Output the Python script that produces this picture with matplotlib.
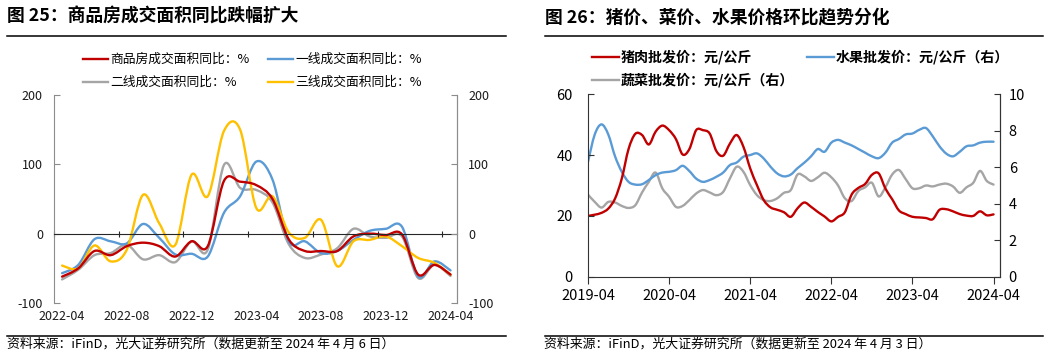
import numpy as np
import matplotlib; matplotlib.use("Agg")
import matplotlib.pyplot as plt
from matplotlib.path import Path
from matplotlib.patches import PathPatch
from matplotlib.lines import Line2D

plt.rcParams["font.family"] = ["Noto Sans CJK SC", "DejaVu Sans"]
plt.rcParams["axes.unicode_minus"] = False

# ---- fig 25 data: monthly, 2022-04 .. 2024-04 ----
area_months = list(range(25))
area_ticklabels = ["2022-04", "2022-08", "2022-12", "2023-04", "2023-08", "2023-12", "2024-04"]
area_total = [-62, -50, -25, -31, -18, -13, -18, -33, -11, -18, 76, 75, 70, 50, -8, -25, -25, -25, -4, 0, -2, -1, -59, -45, -59]
area_tier1 = [-57, -45, -8, -11, -14, 14, -6, -30, -29, -33, 30, 54, 104, 78, -11, -11, -28, -25, -9, 4, 7, 10, -62, -40, -53]
area_tier2 = [-66, -52, -31, -28, -16, -37, -31, -41, -11, -23, 99, 66, 63, 45, -15, -35, -30, -21, 7, -4, -6, -4, -64, -45, -61]
area_tier3 = [-46, -50, -17, -40, -23, 56, 15, -16, 85, 54, 148, 150, 37, 54, 2, -6, 20, -47, -11, -9, -4, -18, -35, -42, -59]
area_names = ["商品房成交面积同比：%", "一线成交面积同比：%", "二线成交面积同比：%", "三线成交面积同比：%"]

# ---- fig 26 data: monthly, 2019-04 .. 2024-04 ----
price_months = list(range(61))
price_ticklabels = ["2019-04", "2020-04", "2021-04", "2022-04", "2023-04", "2024-04"]
pork = [20.0, 20.4, 21, 22.4, 25.7, 32.3, 42, 47, 46.6, 43.5, 47.7, 49.7, 48.2, 45.3, 40.2, 42,
        48.2, 48.2, 47.1, 41.3, 39.8, 43.8, 46.6, 42.7, 35.6, 30.1, 25.2, 22.8, 22, 21.2, 19.7,
        22.5, 24.4, 23, 21.3, 19.8, 18.2, 19.7, 21.2, 27, 29.2, 30.5, 33.5, 34, 29, 25.5, 21.8,
        20.6, 19.7, 19.5, 19.3, 18.9, 22.0, 22.2, 21.5, 20.6, 20.1, 20.0, 21.5, 20.2, 20.5]
fruit = [6.3, 7.8, 8.35, 7.8, 6.6, 5.75, 5.2, 5.05, 5.07, 5.3, 5.57, 5.71, 5.75, 5.84, 6.08, 5.79,
         5.38, 5.2, 5.3, 5.48, 5.71, 6.12, 6.26, 6.58, 6.67, 6.76, 6.48, 6.03, 5.66, 5.5, 5.6,
         5.95, 6.25, 6.6, 7.0, 6.85, 7.35, 7.5, 7.35, 7.2, 7.0, 6.8, 6.6, 6.5, 6.8, 7.35, 7.55,
         7.8, 7.85, 8.05, 8.15, 7.7, 7.15, 6.75, 6.6, 6.85, 7.15, 7.2, 7.35, 7.4, 7.4]
veg = [4.5, 4.1, 3.79, 4.1, 4.07, 3.88, 3.77, 3.92, 4.62, 5.2, 5.71, 4.84, 4.38, 3.83, 3.88, 4.2,
       4.56, 4.75, 4.62, 4.47, 4.65, 5.39, 6.03, 5.75, 5.02, 4.47, 4.2, 4.15, 4.3, 4.6, 4.75,
       5.6, 5.5, 5.25, 5.45, 5.7, 5.45, 5.0, 4.3, 4.15, 4.7, 4.9, 5.15, 4.4, 4.9, 5.6, 5.85,
       5.35, 4.85, 4.85, 5.0, 4.95, 5.05, 5.1, 4.95, 4.6, 4.9, 5.15, 5.8, 5.25, 5.05]
price_names = ["猪肉批发价：元/公斤", "水果批发价：元/公斤（右）", "蔬菜批发价：元/公斤（右）"]

RED, BLUE, GRAY, YEL = "#C00000", "#5B9BD5", "#A5A5A5", "#FFC000"
W, H = 1054, 356


def smooth(ax, x, y, color, lw=1.7):
    # excel-style smoothed line: catmull-rom segments as cubic beziers
    p = np.column_stack([x, y]).astype(float)
    n = len(p)
    verts, codes = [p[0]], [Path.MOVETO]
    for i in range(n - 1):
        p0, p1, p2, p3 = p[max(i - 1, 0)], p[i], p[i + 1], p[min(i + 2, n - 1)]
        verts += [p1 + (p2 - p0) / 6, p2 - (p3 - p1) / 6, p2]
        codes += [Path.CURVE4] * 3
    ax.add_patch(PathPatch(Path(verts, codes), fill=False, edgecolor=color, lw=lw,
                           capstyle="round", joinstyle="round"))


def fx(px): return px / W
def fy(py): return 1 - py / H


fig = plt.figure(figsize=(W / 100, H / 100), dpi=100)

# ---------------- left: fig 25 ----------------
ax = fig.add_axes([fx(54), fy(303), fx(457) - fx(54), fy(95) - fy(303)])
smooth(ax, area_months, area_tier2, GRAY)
smooth(ax, area_months, area_tier1, BLUE)
smooth(ax, area_months, area_tier3, YEL)
smooth(ax, area_months, area_total, RED)
ax.set_xlim(-0.5, 24.4)
ax.set_ylim(-100, 200)
ax.set_yticks([-100, 0, 100, 200])
ax.spines["top"].set_visible(False)
ax.spines["right"].set_color("#8c8c8c")
ax.spines["left"].set_color("#8c8c8c")
ax.spines["bottom"].set_position(("data", 0))
ax.spines["bottom"].set_color("#262626")
ax.set_xticks([m - 0.5 for m in area_months[::4]])
ax.tick_params(axis="x", direction="inout", length=5, color="#262626", labelbottom=False)
ax.tick_params(axis="y", direction="in", length=4, color="#8c8c8c", labelsize=9, pad=8, labelcolor="#1a1a1a")
sec = ax.secondary_xaxis("bottom")
sec.set_xticks(area_months[::4], area_ticklabels)
sec.tick_params(length=0, labelsize=9, pad=5, labelcolor="#1a1a1a")
sec.spines["bottom"].set_visible(False)
axr = ax.twinx()
axr.set_ylim(-100, 200)
axr.set_yticks([-100, 0, 100, 200])
for s in ["top", "bottom", "left"]:
    axr.spines[s].set_visible(False)
axr.spines["right"].set_color("#8c8c8c")
axr.tick_params(axis="y", direction="in", length=4, color="#8c8c8c", labelsize=9, pad=8, labelcolor="#1a1a1a")

# ---------------- right: fig 26 ----------------
bx = fig.add_axes([fx(588), fy(276.7), fx(1000.3) - fx(588), fy(94.3) - fy(276.7)])
smooth(bx, price_months, pork, RED)
bx.set_xlim(0, 61)
bx.set_ylim(0, 60)
bx.set_yticks([0, 20, 40, 60])
bx.set_xticks(price_months[::12], price_ticklabels)
bx.spines["top"].set_visible(False)
for s in ["left", "right", "bottom"]:
    bx.spines[s].set_color("#333333")
bx.tick_params(axis="x", direction="out", length=5, color="#333333", labelsize=10.5, pad=4)
bx.tick_params(axis="y", direction="in", length=4, color="#333333", labelsize=10.5, pad=11)
bx2 = bx.twinx()
smooth(bx2, price_months, veg, GRAY)
smooth(bx2, price_months, fruit, BLUE)
bx2.set_ylim(0, 10)
bx2.set_yticks([0, 2, 4, 6, 8, 10])
for s in ["top", "bottom", "left"]:
    bx2.spines[s].set_visible(False)
bx2.spines["right"].set_color("#333333")
bx2.tick_params(axis="y", direction="in", length=4, color="#333333", labelsize=10.5, pad=6)
bx.set_zorder(bx2.get_zorder() + 1)
bx.patch.set_visible(False)

# ---------------- titles, rules, legends, sources ----------------
fig.text(fx(7), fy(17), "图 25：商品房成交面积同比跌幅扩大", fontsize=12.8, fontweight="bold", va="center")
fig.text(fx(545), fy(17), "图 26：猪价、菜价、水果价格环比趋势分化", fontsize=12.8, fontweight="bold", va="center")
for x0, x1 in [(7, 506), (545, 1043)]:
    fig.add_artist(Line2D([fx(x0), fx(x1)], [fy(36), fy(36)], color="black", lw=1.1))
    fig.add_artist(Line2D([fx(x0), fx(x1)], [fy(335.5), fy(335.5)], color="black", lw=1.1))

left_leg = [(83, 59, RED, area_names[0]), (268, 59, BLUE, area_names[1]),
            (83, 82, GRAY, area_names[2]), (268, 82, YEL, area_names[3])]
for x0, y0, c, t in left_leg:
    fig.add_artist(Line2D([fx(x0), fx(x0 + 25)], [fy(y0), fy(y0)], color=c, lw=1.7))
    fig.text(fx(x0 + 27), fy(y0), t, fontsize=9.2, va="center")
right_leg = [(592, 57, RED, price_names[0]), (807, 57, BLUE, price_names[1]),
             (592, 80, GRAY, price_names[2])]
for x0, y0, c, t in right_leg:
    fig.add_artist(Line2D([fx(x0), fx(x0 + 27)], [fy(y0), fy(y0)], color=c, lw=1.7))
    fig.text(fx(x0 + 29), fy(y0), t, fontsize=10.1, fontweight="bold", va="center")

fig.text(fx(7), fy(344), "资料来源：iFinD，光大证券研究所（数据更新至 2024 年 4 月 6 日）", fontsize=9.3, va="center")
fig.text(fx(544), fy(344), "资料来源：iFinD，光大证券研究所（数据更新至 2024 年 4 月 3 日）", fontsize=9.3, va="center")

fig.savefig("out.png", dpi=100)
